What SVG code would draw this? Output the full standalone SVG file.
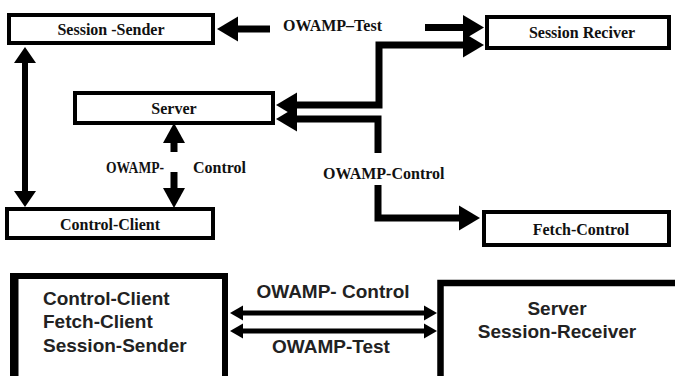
<svg xmlns="http://www.w3.org/2000/svg" width="675" height="376" viewBox="0 0 675 376">
<style>
.box{fill:#fff;stroke:#000;stroke-width:4}
.bbox{fill:#fff;stroke:#000;stroke-width:6}
.ln{fill:none;stroke:#000;stroke-width:7}
.lnv{fill:none;stroke:#000;stroke-width:6}
.lnb{fill:none;stroke:#000;stroke-width:5}
.st{font-family:"Liberation Serif","Times New Roman",serif;font-weight:bold;font-size:16px;fill:#111}
.ss{font-family:"Liberation Sans",Arial,sans-serif;font-weight:bold;font-size:19px;fill:#222}
</style>
<defs>
<marker id="big" markerUnits="userSpaceOnUse" markerWidth="22" markerHeight="26" viewBox="0 -13 22 26" refX="0" refY="0" orient="auto-start-reverse"><path d="M0,-12.5 L21,0 L0,12.5 z" fill="#000"/></marker>
<marker id="mid" markerUnits="userSpaceOnUse" markerWidth="21" markerHeight="24" viewBox="0 -12 21 24" refX="0" refY="0" orient="auto-start-reverse"><path d="M0,-11 L20,0 L0,11 z" fill="#000"/></marker>
<marker id="vm" markerUnits="userSpaceOnUse" markerWidth="18" markerHeight="24" viewBox="0 -12 18 24" refX="0" refY="0" orient="auto-start-reverse"><path d="M0,-11 L16,0 L0,11 z" fill="#000"/></marker>
<marker id="sm" markerUnits="userSpaceOnUse" markerWidth="14" markerHeight="16" viewBox="0 -8 14 16" refX="0" refY="0" orient="auto-start-reverse"><path d="M0,-7.5 L13,0 L0,7.5 z" fill="#000"/></marker>
</defs>

<g id="connectors">
<path class="ln" d="M270,29 L238,29" marker-end="url(#big)"/>
<path class="ln" d="M425,27.5 L463,27.5" marker-end="url(#big)"/>
<path class="ln" d="M297,105 L379,105 L379,45 L463,45" marker-start="url(#big)" marker-end="url(#big)"/>
<path class="ln" d="M378,153 L378,119 L297,119" marker-end="url(#big)"/>
<path class="ln" d="M378,185 L378,218 L459,218" marker-end="url(#big)"/>
<path class="lnv" d="M25,63 L25,191" marker-start="url(#vm)" marker-end="url(#vm)"/>
<path class="ln" d="M174,152 L174,143" marker-end="url(#mid)"/>
<path class="ln" d="M174,172 L174,188" marker-end="url(#mid)"/>
<path class="lnb" d="M243,313 L424,313" marker-start="url(#sm)" marker-end="url(#sm)"/>
<path class="lnb" d="M243,331 L424,331" marker-start="url(#sm)" marker-end="url(#sm)"/>
<text class="st" x="283" y="31">OWAMP–Test</text>
<text class="st" x="106" y="173" font-size="15" textLength="58" lengthAdjust="spacingAndGlyphs">OWAMP-</text>
<text class="st" x="193" y="173">Control</text>
<text class="st" x="323" y="179">OWAMP-Control</text>
<text class="ss" x="333" y="298" text-anchor="middle">OWAMP- Control</text>
<text class="ss" x="331" y="353" text-anchor="middle">OWAMP-Test</text>
</g>

<g id="session-sender">
<rect class="box" x="9" y="15" width="204" height="28"/>
<text class="st" x="111" y="35" text-anchor="middle" font-size="15">Session -Sender</text>
</g>
<g id="session-reciver">
<rect class="box" x="487" y="17" width="182" height="31"/>
<text class="st" x="582" y="38" text-anchor="middle">Session Reciver</text>
</g>
<g id="server">
<rect class="box" x="75" y="93" width="198" height="30"/>
<text class="st" x="174" y="114" text-anchor="middle">Server</text>
</g>
<g id="control-client">
<rect class="box" x="7" y="209" width="206" height="29"/>
<text class="st" x="110" y="230" text-anchor="middle">Control-Client</text>
</g>
<g id="fetch-control">
<rect class="box" x="484" y="212" width="185" height="33"/>
<text class="st" x="581" y="235" text-anchor="middle">Fetch-Control</text>
</g>

<g id="client-side">
<rect class="bbox" x="13" y="276" width="212" height="120"/>
<line x1="16.5" y1="276" x2="16.5" y2="376" stroke="#000" stroke-width="4"/>
<text class="ss" x="43" y="305">Control-Client</text>
<text class="ss" x="43" y="328">Fetch-Client</text>
<text class="ss" x="43" y="352">Session-Sender</text>
</g>
<g id="server-side">
<rect x="440.5" y="283" width="250" height="120" fill="#fff" stroke="#000" stroke-width="6.5"/>
<text class="ss" x="557" y="315" text-anchor="middle">Server</text>
<text class="ss" x="557" y="338" text-anchor="middle">Session-Receiver</text>
</g>
</svg>
